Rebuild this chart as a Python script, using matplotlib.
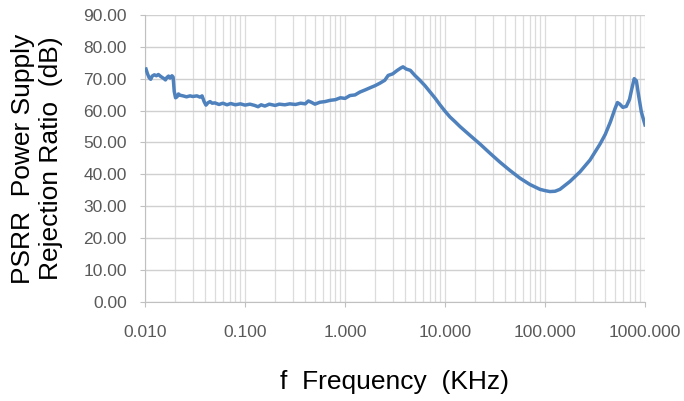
import matplotlib.pyplot as plt
from matplotlib.ticker import LogLocator, FixedLocator, NullFormatter

plt.rcParams["font.family"] = ["Liberation Sans", "DejaVu Sans"]

# frequency in KHz
freq = [
    0.01023, 0.0106, 0.011, 0.0114, 0.0118, 0.0124, 0.013, 0.0136, 0.0142,
    0.0148, 0.0155, 0.016, 0.0166, 0.0172, 0.0178, 0.0186, 0.0191, 0.0196,
    0.0202, 0.0209, 0.0216, 0.0224, 0.024, 0.026, 0.0282, 0.030, 0.033,
    0.0355, 0.0372, 0.039, 0.0407, 0.0425, 0.0447, 0.047, 0.050, 0.055,
    0.060, 0.066, 0.072, 0.080, 0.090, 0.100, 0.112, 0.125, 0.135, 0.145,
    0.158, 0.175, 0.20, 0.22, 0.25, 0.28, 0.32, 0.36, 0.40, 0.43, 0.46,
    0.50, 0.56, 0.63, 0.71, 0.80, 0.90, 1.0, 1.12, 1.26, 1.41, 1.6, 1.8,
    2.0, 2.24, 2.5, 2.7, 3.0, 3.3, 3.6, 3.8, 4.1, 4.5, 5.0, 5.6, 6.3, 7.1,
    8.0, 8.9, 10, 11.2, 12.6, 14.1, 17.8, 22.4, 28.2, 35.5, 44.7, 56.2,
    70.8, 89, 100, 112, 126, 141, 178, 224, 282, 355, 400, 450, 500, 530,
    560, 600, 650, 700, 740, 780, 820, 860, 920, 1000,
]
# PSRR in dB
psrr = [
    73.0, 71.5, 70.3, 69.8, 70.8, 71.2, 70.9, 71.3, 70.8,
    70.4, 70.0, 69.6, 70.4, 70.8, 70.2, 70.9, 70.5, 66.0,
    64.0, 64.3, 65.2, 64.8, 64.6, 64.3, 64.6, 64.4, 64.6,
    64.2, 64.6, 62.8, 61.7, 62.4, 62.8, 62.3, 62.4, 61.9,
    62.3, 61.8, 62.2, 61.8, 62.1, 61.7, 62.0, 61.6, 61.2, 61.8,
    61.4, 62.0, 61.6, 62.0, 61.8, 62.1, 61.9, 62.3, 62.1, 63.0, 62.6,
    62.0, 62.6, 62.8, 63.2, 63.4, 64.0, 63.8, 64.7, 64.9, 65.8, 66.5, 67.2,
    67.8, 68.6, 69.5, 71.0, 71.5, 72.5, 73.3, 73.7, 73.0, 72.6, 71.0, 69.5, 67.8, 65.8,
    63.8, 61.8, 59.8, 58.0, 56.5, 55.0, 52.2, 49.5, 46.6, 43.8, 41.2, 38.8,
    36.8, 35.3, 34.9, 34.6, 34.7, 35.3, 37.8, 40.8, 44.5, 49.5, 52.5, 56.4, 60.5, 62.5,
    62.0, 61.0, 61.3, 63.5, 67.0, 70.0, 69.3, 65.0, 59.5, 55.5,
]

x_ticks = [0.01, 0.1, 1, 10, 100, 1000]
x_labels = ["0.010", "0.100", "1.000", "10.000", "100.000", "1000.000"]
y_ticks = [0, 10, 20, 30, 40, 50, 60, 70, 80, 90]

fig = plt.figure(figsize=(6.84, 4.01), dpi=100)
ax = fig.add_axes([0.212, 0.247, 0.731, 0.716])

ax.plot(freq, psrr, color="#4f81bd", linewidth=2.5, zorder=3,
        solid_joinstyle="round")

ax.set_xscale("log")
ax.set_xlim(0.01, 1000)
ax.set_ylim(0, 90)

ax.xaxis.set_major_locator(FixedLocator(x_ticks))
ax.set_xticklabels(x_labels)
ax.xaxis.set_minor_locator(LogLocator(base=10, subs=range(2, 10)))
ax.xaxis.set_minor_formatter(NullFormatter())
ax.set_yticks(y_ticks)
ax.set_yticklabels([f"{v:.2f}" for v in y_ticks])

ax.grid(True, which="major", axis="y", color="#d0d0d0", linewidth=1.0)
ax.grid(True, which="both", axis="x", color="#dcdcdc", linewidth=0.9)

for s in ["top", "right"]:
    ax.spines[s].set_visible(False)
ax.spines["left"].set_color("#c0c0c0")
ax.spines["bottom"].set_color("#c0c0c0")

ax.tick_params(axis="y", length=3.6, color="#c0c0c0", labelsize=12.5,
               labelcolor="#595959", pad=9.4)
ax.tick_params(axis="x", which="major", length=3.6, color="#c0c0c0",
               labelsize=12.5, labelcolor="#595959", pad=13)
ax.tick_params(axis="x", which="minor", length=0)

fig.text(395 / 684, 1 - 382 / 401, "f  Frequency  (KHz)", fontsize=19,
         ha="center", va="center")
fig.text(37 / 684, 1 - 158.5 / 401, "PSRR  Power Supply\nRejection Ratio  (dB)",
         fontsize=19, rotation=90, ha="center", va="center",
         multialignment="center")

plt.savefig("out.png", dpi=100)
